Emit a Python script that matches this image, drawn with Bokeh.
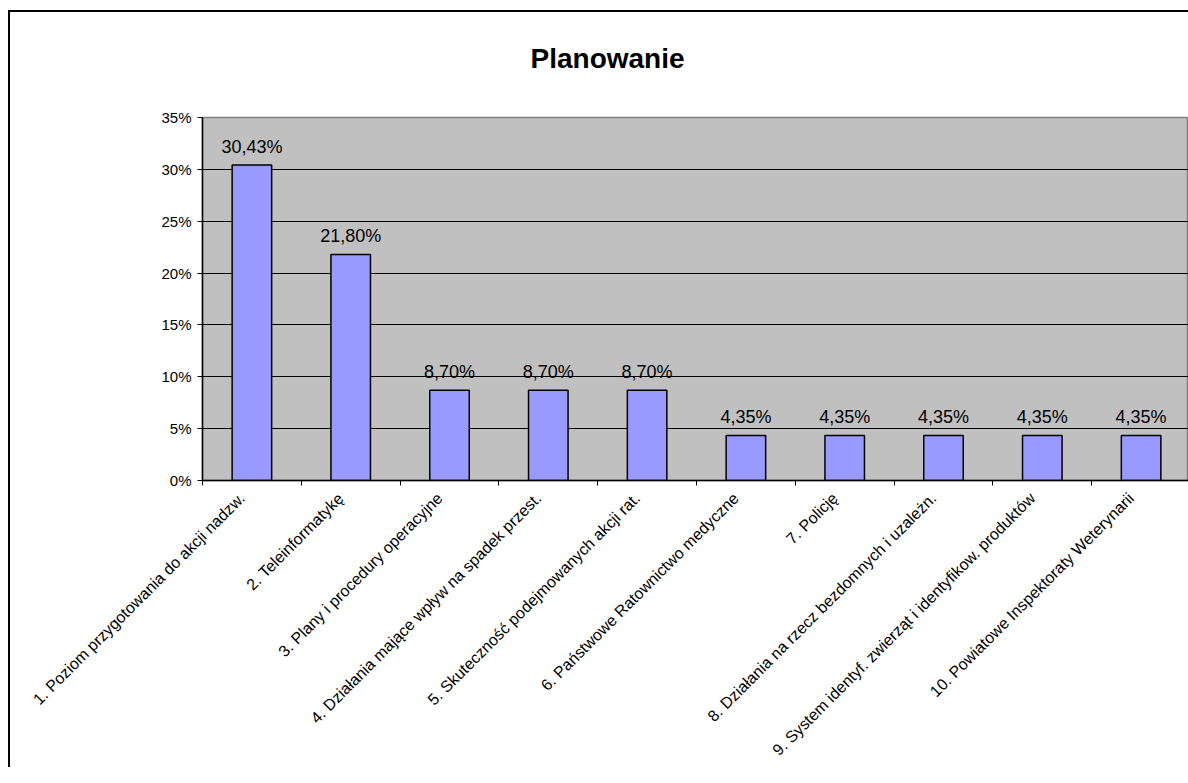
import math
from bokeh.plotting import figure
from bokeh.models import (Range1d, FixedTicker, PrintfTickFormatter, LinearAxis,
                          ColumnDataSource, Title)
from bokeh.core.properties import value
from bokeh.embed import file_html
from bokeh.resources import INLINE

title_text = "Planowanie"
categories = [
    "1. Poziom przygotowania do akcji nadzw.",
    "2. Teleinformatykę",
    "3. Plany i procedury operacyjne",
    "4. Działania mające wpływ na spadek przest.",
    "5. Skuteczność podejmowanych akcji rat.",
    "6. Państwowe Ratownictwo medyczne",
    "7. Policję",
    "8. Działania na rzecz bezdomnych i uzależn.",
    "9. System identyf. zwierząt i identyfikow. produktów",
    "10. Powiatowe Inspektoraty Weterynarii",
]
values = [30.43, 21.80, 8.70, 8.70, 8.70, 4.35, 4.35, 4.35, 4.35, 4.35]
y_ticks = [0, 5, 10, 15, 20, 25, 30, 35]

FONT = "Liberation Sans"
W, H = 1188, 767
LEFT, TOP, BOTTOM = 202, 117, 286
cat_px = 98.8
frame_w = W - LEFT
xs = list(range(1, len(categories) + 1))
label_pos = [round(x - 0.1, 2) for x in xs]

p = figure(width=W, height=H, output_backend="svg", toolbar_location=None,
           x_range=Range1d(0.5, 0.5 + frame_w / cat_px), y_range=Range1d(0, 35),
           x_axis_type=None, min_border_left=LEFT, min_border_right=0,
           min_border_top=TOP, min_border_bottom=BOTTOM)
p.background_fill_color = "#C0C0C0"
p.border_fill_color = None
p.outline_line_color = "#808080"
p.outline_line_width = 1.5
# outer chart border (left and top edges visible; right/bottom cut off)
p.styles = {
    "background-color": "#ffffff",
    "background-image": "linear-gradient(#000,#000), linear-gradient(#000,#000)",
    "background-position": "8px 10px, 8px 10px",
    "background-size": "2px 2000px, 2000px 2px",
    "background-repeat": "no-repeat, no-repeat",
}

# title
p.title = Title(text=title_text, align="left", offset=328, vertical_align="top",
                text_font=FONT, text_font_size="28px", text_font_style="bold",
                text_color="black", standoff=83)

# y axis
ya = p.yaxis[0]
ya.ticker = FixedTicker(ticks=y_ticks)
ya.formatter = PrintfTickFormatter(format="%d%%")
ya.major_label_text_font = FONT
ya.major_label_text_font_size = "15px"
ya.major_label_text_color = "black"
ya.axis_line_color = "black"
ya.axis_line_width = 1.5
ya.major_tick_in = 0
ya.major_tick_out = 5
ya.major_tick_line_color = "black"
ya.minor_tick_line_color = None
ya.major_label_standoff = 6

p.ygrid.ticker = FixedTicker(ticks=y_ticks[1:-1])
p.ygrid.grid_line_color = "black"
p.ygrid.grid_line_width = 1
p.xgrid.grid_line_color = None

# x axis (categories): labels via invisible major ticks, boundary marks via minor ticks
xa = LinearAxis(
    ticker=FixedTicker(ticks=label_pos,
                       minor_ticks=[x - 0.5 for x in xs] + [xs[-1] + 0.5]),
    major_label_overrides={lp: c for lp, c in zip(label_pos, categories)},
    major_label_orientation=math.pi / 4,
    major_label_text_font=FONT, major_label_text_font_size="16px",
    major_label_text_color="black",
    major_tick_in=0, major_tick_out=0,
    minor_tick_in=0, minor_tick_out=5, minor_tick_line_color="black",
    axis_line_color="black", axis_line_width=1.5,
    major_label_standoff=10,
)
p.add_layout(xa, "below")

src = ColumnDataSource(dict(
    x=xs, top=values,
    lbl=[f"{v:.2f}%".replace(".", ",") for v in values],
))
p.vbar(x="x", top="top", width=0.4, bottom=0, source=src,
       fill_color="#9999FF", line_color="black", line_width=1.5)
p.text(x="x", y="top", text="lbl", source=src, text_align="center",
       text_baseline="alphabetic", y_offset=-18,
       text_font=value(FONT), text_font_size="18px", text_color="black")

open("out.html", "w").write(file_html(p, INLINE))
